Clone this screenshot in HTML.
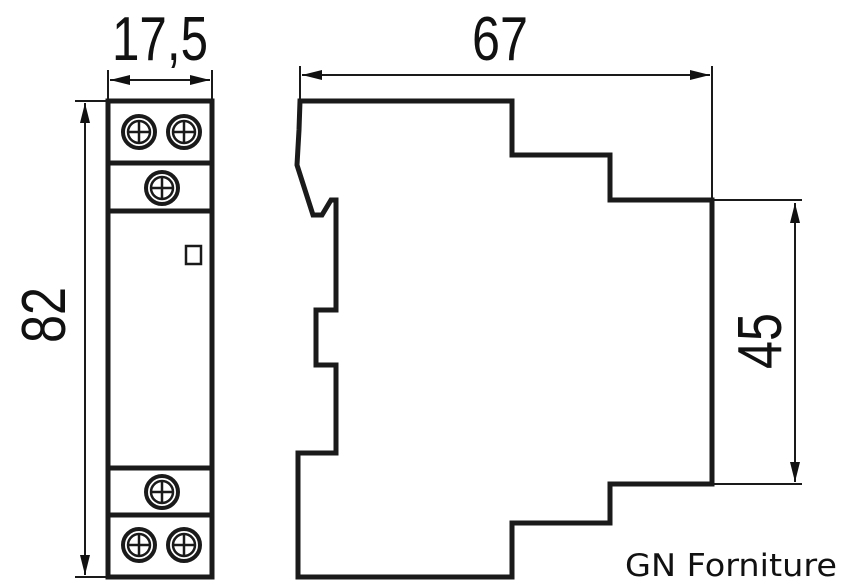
<!DOCTYPE html>
<html><head><meta charset="utf-8"><style>
html,body{margin:0;padding:0;background:#fff;width:842px;height:588px;overflow:hidden}
svg{display:block}
.d{font-family:"Liberation Sans Narrow","Liberation Sans",sans-serif;font-weight:300;fill:#111}
</style></head><body>
<svg width="842" height="588" viewBox="0 0 842 588" xmlns="http://www.w3.org/2000/svg">
<defs>
<marker id="a" viewBox="0 0 20 10" refX="20" refY="5" markerWidth="20" markerHeight="10" markerUnits="userSpaceOnUse" orient="auto-start-reverse"><path d="M0,0 L20,5 L0,10z" fill="#111"/></marker>
</defs>
<g stroke="#1a1a1a" fill="none">
<rect x="108" y="101" width="104" height="476" stroke-width="5"/>
<g stroke-width="5">
<line x1="108" y1="163" x2="212" y2="163"/>
<line x1="108" y1="211" x2="212" y2="211"/>
<line x1="108" y1="468" x2="212" y2="468"/>
<line x1="108" y1="515" x2="212" y2="515"/>
</g>
<rect x="186" y="246" width="15" height="18" stroke-width="2.5"/>
<g stroke-width="4">
<circle cx="139" cy="132" r="16"/><circle cx="184" cy="132" r="16"/>
<circle cx="162" cy="188" r="16"/><circle cx="162" cy="492" r="16"/>
<circle cx="139" cy="545" r="16"/><circle cx="184" cy="545" r="16"/>
</g>
<g stroke-width="2.5">
<circle cx="139" cy="132" r="11"/><circle cx="184" cy="132" r="11"/>
<circle cx="162" cy="188" r="11"/><circle cx="162" cy="492" r="11"/>
<circle cx="139" cy="545" r="11"/><circle cx="184" cy="545" r="11"/>
<path d="M128 132h22M139 121v22M173 132h22M184 121v22M151 188h22M162 177v22M151 492h22M162 481v22M128 545h22M139 534v22M173 545h22M184 534v22"/>
</g>
<g stroke-width="2">
<line x1="108" y1="70" x2="108" y2="99"/>
<line x1="212" y1="70" x2="212" y2="99"/>
<line x1="110" y1="80" x2="210" y2="80" marker-start="url(#a)" marker-end="url(#a)"/>
<line x1="75" y1="101" x2="106" y2="101"/>
<line x1="75" y1="577" x2="106" y2="577"/>
<line x1="85" y1="103" x2="85" y2="575" marker-start="url(#a)" marker-end="url(#a)"/>
</g>
<path stroke-width="5" stroke-linejoin="miter" d="M300 101 L512 101 L512 155 L610 155 L610 200 L712 200 L712 484 L610 484 L610 523 L512 523 L512 577 L298 577 L298 453 L336 453 L336 365 L316 365 L316 310 L336 310 L336 200 L331 200 L322 215 L313 215 L297 165 L299 130 Z"/>
<g stroke-width="2">
<line x1="300" y1="66" x2="300" y2="99"/>
<line x1="712" y1="66" x2="712" y2="198"/>
<line x1="302" y1="75" x2="710" y2="75" marker-start="url(#a)" marker-end="url(#a)"/>
<line x1="714" y1="200" x2="802" y2="200"/>
<line x1="714" y1="484" x2="802" y2="484"/>
<line x1="795" y1="203" x2="795" y2="482" marker-start="url(#a)" marker-end="url(#a)"/>
</g>
</g>
<text class="d" x="160" y="60" font-size="62" text-anchor="middle" textLength="96" lengthAdjust="spacingAndGlyphs">17,5</text>
<text class="d" x="500" y="60" font-size="62" text-anchor="middle" textLength="56" lengthAdjust="spacingAndGlyphs">67</text>
<text class="d" transform="translate(65,315) rotate(-90)" font-size="62" text-anchor="middle" textLength="56" lengthAdjust="spacingAndGlyphs">82</text>
<text class="d" transform="translate(781,341) rotate(-90)" font-size="62" text-anchor="middle" textLength="56" lengthAdjust="spacingAndGlyphs">45</text>
<text x="625" y="576" font-family="DejaVu Sans,sans-serif" font-size="31" fill="#111" textLength="212" lengthAdjust="spacingAndGlyphs">GN Forniture</text>
</svg>
</body></html>
